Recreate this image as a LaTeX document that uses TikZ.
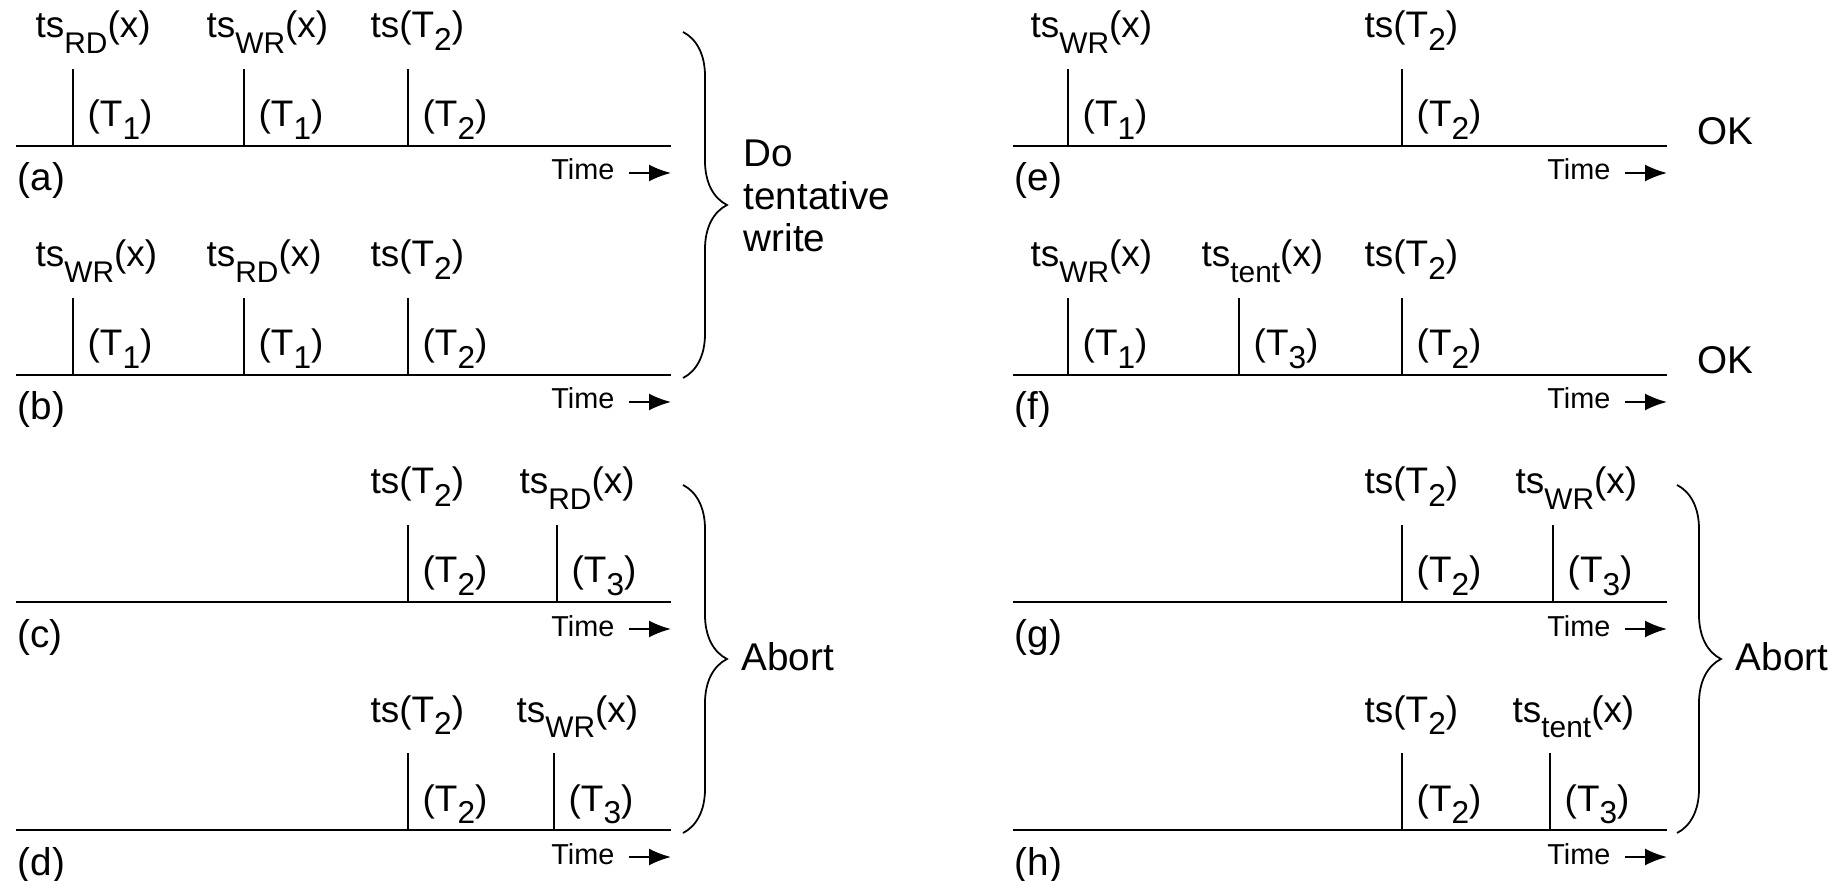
\documentclass[tikz,border=0pt]{standalone}
\usepackage{fontspec}
\setmainfont{Liberation Sans}
\usetikzlibrary{arrows.meta,decorations.pathreplacing}

\newcommand{\lowsub}[1]{\raisebox{-4.5pt}{\fontsize{8.5}{8.5}\selectfont #1}}
\newcommand{\lownum}[1]{\raisebox{-3.5pt}{\fontsize{9}{9}\selectfont #1}}

\tikzset{
    timeline/.style={line width=0.75pt},
    tickline/.style={line width=0.6pt},
    timearrow/.style={line width=0.55pt,-{Latex[length=2.2mm,width=1.7mm]}},
    panel/.style={anchor=base west,inner sep=0pt,font=\fontsize{11}{13}\selectfont},
    toplabel/.style={anchor=base west,inner sep=0pt,font=\fontsize{10.5}{12}\selectfont},
    txlabel/.style={anchor=base west,inner sep=0pt,font=\fontsize{10.5}{12}\selectfont},
    timelabel/.style={anchor=base east,inner sep=0pt,font=\fontsize{8.2}{9.6}\selectfont},
    verdict/.style={inner sep=0pt,font=\fontsize{11}{12.2}\selectfont,align=left},
    bracket/.style={decorate,decoration={brace,amplitude=4.4mm,aspect=0.5},line width=0.5pt}
}

\begin{document}
\begin{tikzpicture}
        % Frame of the whole figure
        \useasboundingbox (0,0) rectangle (18.47,8.80);

        % Time axes: panel / start x / end x / y
        \foreach \p/\xs/\xe/\y in {a/0.16/6.71/7.34, b/0.16/6.71/5.05, c/0.16/6.71/2.78, d/0.16/6.71/0.50,
                                   e/10.13/16.67/7.34, f/10.13/16.67/5.05, g/10.13/16.67/2.78, h/10.13/16.67/0.50} {
            \coordinate (\p-start) at (\xs,\y);
            \coordinate (\p-end) at (\xe,\y);
            \draw[timeline] (\p-start) -- (\p-end);
            \node[panel] (\p-name) at ([xshift=0.01cm,yshift=-0.45cm]\p-start) {(\p)};
            \node[timelabel] (\p-time) at ([xshift=-0.56cm,yshift=-0.34cm]\p-end) {Time};
            \coordinate (\p-tail) at ([xshift=-0.42cm,yshift=-0.27cm]\p-end);
            \coordinate (\p-tip) at ([yshift=-0.27cm]\p-end);
            \draw[timearrow] (\p-tail) -- (\p-tip);
        }

        % Timestamps on the axes: panel / index / x / y / upper label / lower label
        \foreach \p/\i/\x/\y/\up/\low in {
            a/1/0.73/7.34/{ts\lowsub{RD}(x)}/{(T\lownum{1})},
            a/2/2.44/7.34/{ts\lowsub{WR}(x)}/{(T\lownum{1})},
            a/3/4.08/7.34/{ts(T\lownum{2})}/{(T\lownum{2})},
            b/1/0.73/5.05/{ts\lowsub{WR}(x)}/{(T\lownum{1})},
            b/2/2.44/5.05/{ts\lowsub{RD}(x)}/{(T\lownum{1})},
            b/3/4.08/5.05/{ts(T\lownum{2})}/{(T\lownum{2})},
            c/1/4.08/2.78/{ts(T\lownum{2})}/{(T\lownum{2})},
            c/2/5.57/2.78/{ts\lowsub{RD}(x)}/{(T\lownum{3})},
            d/1/4.08/0.50/{ts(T\lownum{2})}/{(T\lownum{2})},
            d/2/5.54/0.50/{ts\lowsub{WR}(x)}/{(T\lownum{3})},
            e/1/10.68/7.34/{ts\lowsub{WR}(x)}/{(T\lownum{1})},
            e/2/14.02/7.34/{ts(T\lownum{2})}/{(T\lownum{2})},
            f/1/10.68/5.05/{ts\lowsub{WR}(x)}/{(T\lownum{1})},
            f/2/12.39/5.05/{ts\lowsub{tent}(x)}/{(T\lownum{3})},
            f/3/14.02/5.05/{ts(T\lownum{2})}/{(T\lownum{2})},
            g/1/14.02/2.78/{ts(T\lownum{2})}/{(T\lownum{2})},
            g/2/15.53/2.78/{ts\lowsub{WR}(x)}/{(T\lownum{3})},
            h/1/14.02/0.50/{ts(T\lownum{2})}/{(T\lownum{2})},
            h/2/15.50/0.50/{ts\lowsub{tent}(x)}/{(T\lownum{3})}} {
            \coordinate (\p-foot\i) at (\x,\y);
            \coordinate (\p-head\i) at ([yshift=0.77cm]\p-foot\i);
            \draw[tickline] (\p-foot\i) -- (\p-head\i);
            \node[toplabel] (\p-ts\i) at ([xshift=-0.38cm,yshift=0.31cm]\p-head\i) {\up};
            \node[txlabel] (\p-tx\i) at ([xshift=0.14cm,yshift=0.19cm]\p-foot\i) {\low};
        }

        % Braces
        \coordinate (ab-top) at (6.83,8.48);
        \coordinate (ab-bot) at (6.83,5.02);
        \coordinate (cd-top) at (6.83,3.95);
        \coordinate (cd-bot) at (6.83,0.47);
        \coordinate (gh-top) at (16.77,3.95);
        \coordinate (gh-bot) at (16.77,0.47);
        \draw[bracket] (ab-top) -- (ab-bot);
        \draw[bracket] (cd-top) -- (cd-bot);
        \draw[bracket] (gh-top) -- (gh-bot);

        % Outcomes
        \node[verdict,anchor=west] (ab-out) at (7.43,6.84) {Do\\tentative\\write};
        \node[verdict,anchor=base west] (cd-out) at (7.41,2.10) {Abort};
        \node[verdict,anchor=base west] (gh-out) at (17.35,2.10) {Abort};
        \node[verdict,anchor=base west] (e-out) at (16.97,7.35) {OK};
        \node[verdict,anchor=base west] (f-out) at (16.97,5.06) {OK};
    \end{tikzpicture}
\end{document}
